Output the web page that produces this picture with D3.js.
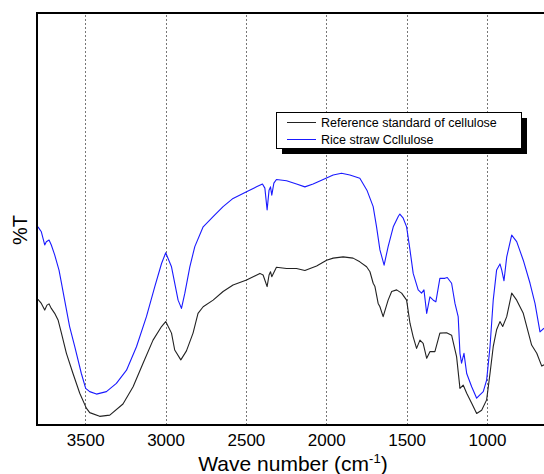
<!DOCTYPE html>
<html>
<head>
<meta charset="utf-8">
<script src="https://cdn.jsdelivr.net/npm/d3@7"></script>
<style>
  body { margin: 0; background: #fff; }
  svg { display: block; }
  text { font-family: Arial, "Liberation Sans", sans-serif; fill: #000; }
</style>
</head>
<body>
<svg id="chart" width="544" height="474"></svg>
<script>
// wave numbers (cm-1), shared by both traces
var tickValues = [3500, 3000, 2500, 2000, 1500, 1000];
var seriesNames = ["Reference standard of cellulose", "Rice straw Ccllulose"];

// Rice straw cellulose (blue), [wave number, %T]
var riceStraw = [
  [3794, 48.1], [3773, 46.9], [3752, 43.7], [3742, 44.5], [3725, 44.9], [3711, 43.7],
  [3690, 41.3], [3663, 37.6], [3648, 34.5], [3628, 30.3], [3597, 23.9], [3565, 19.0],
  [3524, 12.5], [3497, 8.9], [3472, 8.1], [3430, 7.5], [3368, 8.1], [3306, 10.1],
  [3243, 13.3], [3181, 19.0], [3119, 26.3], [3067, 33.6], [3025, 39.2], [2999, 41.8],
  [2963, 38.4], [2922, 30.3], [2901, 28.3], [2880, 32.0], [2849, 38.4], [2818, 43.3],
  [2766, 48.1], [2704, 50.6], [2642, 53.0], [2580, 55.0], [2496, 56.6], [2434, 57.8],
  [2397, 58.5], [2382, 57.5], [2368, 52.2], [2356, 57.0], [2347, 57.8], [2339, 55.8],
  [2326, 58.7], [2310, 59.6], [2247, 59.3], [2185, 58.5], [2133, 57.8], [2082, 58.5],
  [2019, 59.6], [1957, 60.7], [1905, 61.1], [1853, 60.7], [1791, 59.9], [1747, 57.0],
  [1708, 53.0], [1687, 48.1], [1666, 42.5], [1640, 38.8], [1615, 43.3], [1583, 48.1],
  [1552, 50.6], [1542, 51.2], [1521, 50.2], [1500, 48.1], [1479, 42.5], [1459, 36.8],
  [1428, 32.8], [1407, 32.0], [1392, 32.8], [1375, 27.1], [1355, 31.1], [1334, 30.3],
  [1318, 29.9], [1293, 35.6], [1262, 35.6], [1247, 35.8], [1220, 34.4], [1199, 29.5],
  [1179, 26.3], [1168, 17.4], [1158, 15.0], [1143, 17.4], [1126, 12.5], [1095, 9.3],
  [1064, 6.5], [1044, 7.3], [1023, 8.1], [1002, 10.9], [981, 19.0], [961, 30.3],
  [940, 37.6], [919, 39.1], [908, 37.6], [894, 35.0], [877, 40.8], [846, 46.1],
  [815, 44.5], [774, 40.0], [732, 34.4], [701, 29.5], [670, 22.6], [645, 23.5]
];

// Reference standard of cellulose (black), [wave number, %T]
var reference = [
  [3794, 30.5], [3773, 29.5], [3752, 27.9], [3738, 29.1], [3725, 29.4], [3711, 28.3],
  [3690, 27.1], [3669, 25.5], [3648, 22.3], [3617, 17.4], [3576, 12.5], [3534, 7.7],
  [3493, 4.1], [3472, 3.0], [3410, 2.1], [3347, 2.4], [3265, 5.1], [3202, 9.3],
  [3140, 15.0], [3078, 20.6], [3025, 23.9], [2999, 25.1], [2963, 22.3], [2943, 18.2],
  [2905, 15.8], [2870, 18.0], [2829, 22.3], [2798, 27.1], [2766, 28.7], [2704, 30.3],
  [2642, 32.4], [2580, 34.0], [2496, 35.2], [2413, 36.8], [2393, 36.4], [2368, 33.6],
  [2356, 36.4], [2347, 37.2], [2339, 36.0], [2310, 38.3], [2247, 38.0], [2185, 38.0],
  [2133, 37.5], [2060, 38.6], [1998, 40.0], [1957, 40.5], [1895, 40.8], [1833, 40.5],
  [1791, 39.6], [1749, 38.4], [1728, 37.2], [1708, 34.4], [1697, 33.6], [1677, 29.5],
  [1666, 28.7], [1646, 26.3], [1615, 30.3], [1593, 32.4], [1562, 32.8], [1531, 32.0],
  [1500, 30.3], [1479, 24.7], [1459, 21.4], [1438, 18.6], [1417, 20.6], [1397, 19.8],
  [1375, 16.2], [1355, 17.8], [1324, 17.8], [1293, 22.3], [1251, 22.4], [1220, 21.8],
  [1189, 16.6], [1168, 8.9], [1148, 9.7], [1126, 7.7], [1095, 5.3], [1064, 2.8],
  [1033, 3.6], [1002, 6.1], [981, 12.5], [961, 19.0], [940, 23.1], [919, 25.1],
  [902, 23.9], [877, 26.3], [846, 32.0], [815, 30.3], [774, 27.1], [722, 19.4],
  [690, 17.4], [659, 14.3], [645, 14.6]
];

var seriesColors = ["#222222", "#1a1aff"];

function drawChart()
{
    var svg = d3.select("#chart");
    var pLeft = 37, pRight = 544, pTop = 13, pBottom = 425;

    var x = d3.scaleLinear().domain([3800, 645]).range([pLeft, pRight]);
    var y = d3.scaleLinear().domain([0, 100]).range([pBottom, pTop]);

    svg.append("clipPath").attr("id", "plotClip")
        .append("rect")
        .attr("x", pLeft).attr("y", pTop)
        .attr("width", pRight - pLeft).attr("height", pBottom - pTop);

    // dotted grid
    svg.append("g").selectAll("line")
        .data(tickValues)
        .enter().append("line")
        .attr("x1", function(d) { return Math.round(x(d)) + 0.5; })
        .attr("x2", function(d) { return Math.round(x(d)) + 0.5; })
        .attr("y1", pTop + 2)
        .attr("y2", pBottom - 1)
        .attr("stroke", "#777")
        .attr("stroke-width", 1)
        .attr("stroke-dasharray", "2,2");

    // curves
    var line = d3.line()
        .x(function(d) { return x(d[0]); })
        .y(function(d) { return y(d[1]); });

    var plot = svg.append("g").attr("clip-path", "url(#plotClip)");
    [reference, riceStraw].forEach(function(series, i) {
        plot.append("path")
            .datum(series)
            .attr("d", line)
            .attr("fill", "none")
            .attr("stroke", seriesColors[i])
            .attr("stroke-width", 1.1)
            .attr("stroke-linejoin", "round");
    });

    // frame
    svg.append("line").attr("x1", pLeft).attr("x2", pRight).attr("y1", pTop).attr("y2", pTop)
        .attr("stroke", "#000").attr("stroke-width", 2);
    svg.append("line").attr("x1", pLeft).attr("x2", pLeft).attr("y1", pTop - 1).attr("y2", pBottom + 1)
        .attr("stroke", "#000").attr("stroke-width", 2);
    svg.append("line").attr("x1", pLeft).attr("x2", pRight).attr("y1", pBottom).attr("y2", pBottom)
        .attr("stroke", "#000").attr("stroke-width", 2);

    // x axis labels
    var xAxis = d3.axisBottom(x).tickValues(tickValues).tickSize(0).tickPadding(9)
        .tickFormat(d3.format("d"));
    var gx = svg.append("g").attr("transform", "translate(0," + pBottom + ")").call(xAxis);
    gx.select(".domain").remove();
    gx.selectAll("text").style("font-size", "17px").style("font-family", "Arial, 'Liberation Sans', sans-serif");

    var title = svg.append("text")
        .attr("x", 293).attr("y", 471)
        .attr("text-anchor", "middle")
        .style("font-size", "21px");
    title.append("tspan").text("Wave number (cm");
    title.append("tspan").attr("dy", -8).style("font-size", "13px").text("-1");
    title.append("tspan").attr("dy", 8).text(")");

    svg.append("text")
        .attr("transform", "translate(27,230) rotate(-90)")
        .attr("text-anchor", "middle")
        .style("font-size", "20px")
        .text("%T");

    // legend
    var lg = svg.append("g").attr("transform", "translate(276,112)");
    lg.append("rect").attr("x", 6).attr("y", 6).attr("width", 245).attr("height", 36).attr("fill", "#000");
    lg.append("rect").attr("x", 0.5).attr("y", 0.5).attr("width", 245).attr("height", 36)
        .attr("fill", "#fff").attr("stroke", "#000").attr("stroke-width", 1);
    seriesNames.forEach(function(name, i) {
        var yy = 10.5 + i * 17;
        lg.append("line").attr("x1", 11).attr("x2", 40).attr("y1", yy).attr("y2", yy)
            .attr("stroke", seriesColors[i]).attr("stroke-width", 1);
        lg.append("text").attr("x", 45).attr("y", yy + 4.5)
            .style("font-size", "12.5px").text(name);
    });
}

drawChart();
</script>
</body>
</html>
